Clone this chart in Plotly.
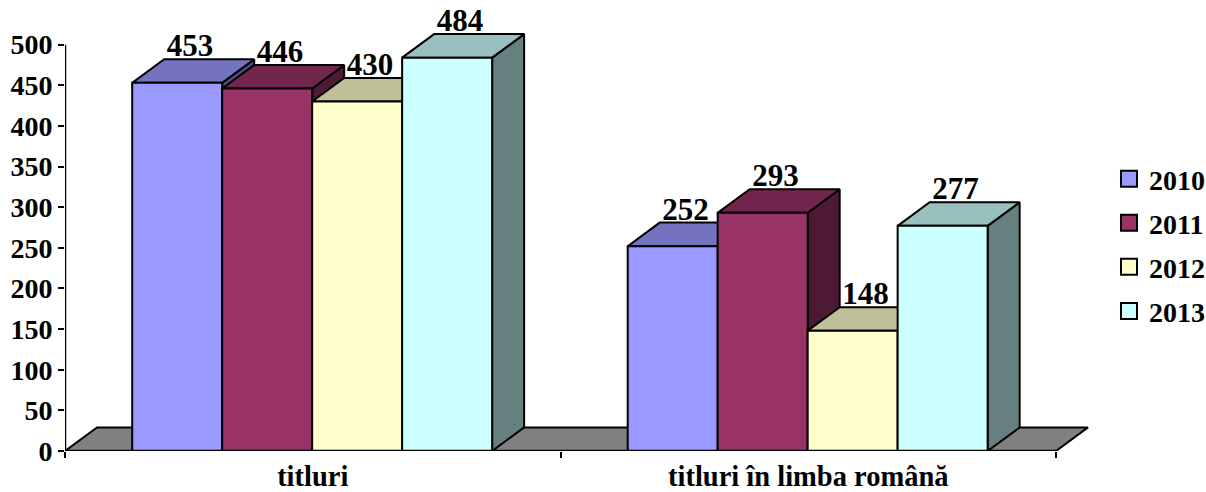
import plotly.graph_objects as go

categories = ["titluri", "titluri în limba română"]
years = ["2010", "2011", "2012", "2013"]
values_2010 = [453, 252]
values_2011 = [446, 293]
values_2012 = [430, 148]
values_2013 = [484, 277]
y_ticks = [0, 50, 100, 150, 200, 250, 300, 350, 400, 450, 500]

series = [values_2010, values_2011, values_2012, values_2013]
front = ["#9999FF", "#993366", "#FFFFCC", "#CCFFFF"]
top = ["#7373BF", "#73264D", "#BFBF99", "#99BFBF"]
side = ["#4D4D80", "#4D1933", "#808066", "#668080"]

FONT = dict(family="Liberation Serif", size=28, color="black", weight="bold")
XFONT = dict(family="Liberation Serif", size=28.5, color="black", weight="bold")
LABELFONT = dict(family="Liberation Serif", size=31, color="black", weight="bold")
BAR_W = 0.1816
START = 0.1356
DX = 0.0646
DY = 29.0
LABEL_DROP = 6.0
LW = 2
X_MAX = 2
Y_MAX = 500


def poly(xs, ys, color):
    return go.Scatter(x=xs + xs[:1], y=ys + ys[:1], mode="lines", fill="toself",
                      fillcolor=color, line=dict(color="black", width=LW),
                      hoverinfo="skip", showlegend=False, cliponaxis=False)


def axis_line(xs, ys):
    return go.Scatter(x=xs, y=ys, mode="lines", line=dict(color="black", width=LW + 0.5),
                      hoverinfo="skip", showlegend=False, cliponaxis=False)


fig = go.Figure()
# floor
fig.add_trace(poly([0, DX, X_MAX + DX, X_MAX], [0, DY, DY, 0], "#808080"))

for c in range(len(categories)):
    for s, vals in enumerate(series):
        x0 = c + START + s * BAR_W
        x1 = x0 + BAR_W
        v = vals[c]
        fig.add_trace(poly([x1, x1 + DX, x1 + DX, x1], [0, DY, v + DY, v], side[s]))
        fig.add_trace(poly([x0, x1, x1 + DX, x0 + DX], [v, v, v + DY, v + DY], top[s]))
        fig.add_trace(poly([x0, x1, x1, x0], [0, 0, v, v], front[s]))

fig.add_trace(axis_line([0, 0], [0, Y_MAX]))
fig.add_trace(axis_line([0, X_MAX], [0, 0]))

for s, vals in enumerate(series):
    fig.add_trace(go.Scatter(
        x=[c + START + (s + 0.5) * BAR_W + DX * 0.4 for c in range(len(categories))],
        y=[v + DY - LABEL_DROP for v in vals], text=[str(v) for v in vals], mode="text",
        textposition="top center", textfont=LABELFONT, hoverinfo="skip",
        showlegend=False, cliponaxis=False))

for s, y in enumerate(years):
    fig.add_trace(go.Scatter(x=[None], y=[None], mode="markers", name=y, legendgroup=y,
                             marker=dict(symbol="square", size=16, color=front[s],
                                         line=dict(color="black", width=2))))

fig.update_layout(
    width=1206, height=492, margin=dict(l=65, r=110, t=4, b=41, autoexpand=False),
    paper_bgcolor="white", plot_bgcolor="white", font=FONT,
    legend=dict(x=1.0126, xanchor="left", y=0.461, yanchor="middle", font=FONT,
                tracegroupgap=4.7, traceorder="grouped", bgcolor="rgba(0,0,0,0)",
                itemwidth=30),
    xaxis=dict(range=[0, 2.0807], tickmode="array", tickvals=[0.5, 1.5], ticktext=categories,
               ticks="", showgrid=False, zeroline=False, showline=False, tickfont=XFONT,
               automargin=False, ticklabelstandoff=5,
               minor=dict(tickmode="array", tickvals=[0, 1, 2], ticks="outside", ticklen=6,
                          tickwidth=2, tickcolor="black", showgrid=False)),
    yaxis=dict(range=[0, 550], tickmode="array", tickvals=y_ticks, ticks="outside", ticklen=6,
               tickwidth=2, tickcolor="black", showgrid=False, zeroline=False, showline=False,
               tickfont=FONT, automargin=False),
)
fig.write_html("out.html", config=dict(displayModeBar=False),
               post_script="document.body.style.margin='0';")
